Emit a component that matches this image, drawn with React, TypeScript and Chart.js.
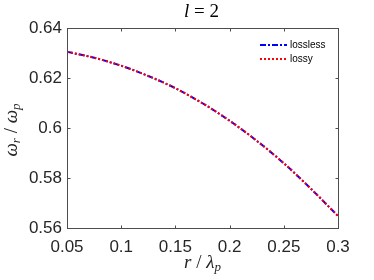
import React, { useEffect, useRef } from 'react';
import { Chart, registerables } from 'chart.js';

Chart.register(...registerables);

const rValues = [0.05, 0.075, 0.1, 0.125, 0.15, 0.175, 0.2, 0.225, 0.25, 0.275, 0.3];
const losslessValues = [0.6305, 0.6281, 0.6249, 0.6208, 0.6159, 0.6099, 0.6029, 0.5949, 0.5859, 0.5757, 0.5648];
const lossyValues = [0.6305, 0.6281, 0.6249, 0.6208, 0.6159, 0.6099, 0.6029, 0.5949, 0.5859, 0.5757, 0.5648];
const seriesNames = ['lossless', 'lossy'];
const xTickValues = [0.05, 0.1, 0.15, 0.2, 0.25, 0.3];
const yTickValues = [0.56, 0.58, 0.6, 0.62, 0.64];

type Part = { text: string; font: string; dy?: number };

function drawRich(ctx: CanvasRenderingContext2D, parts: Part[], cx: number, baseline: number) {
  let total = 0;
  const widths = parts.map((p) => {
    ctx.font = p.font;
    const w = ctx.measureText(p.text).width;
    total += w;
    return w;
  });
  let x = cx - total / 2;
  ctx.textAlign = 'left';
  ctx.textBaseline = 'alphabetic';
  parts.forEach((p, i) => {
    ctx.font = p.font;
    ctx.fillText(p.text, x, baseline + (p.dy || 0));
    x += widths[i];
  });
}

const SERIF = '"Liberation Serif", "DejaVu Serif", serif';
const SANS = '"Liberation Sans", Arial, sans-serif';

const decorPlugin = {
  id: 'decor',
  afterDraw(chart: any) {
    const { ctx, chartArea, scales } = chart;
    const { left, right, top, bottom } = chartArea;
    const xs = scales.x;
    const ys = scales.y;
    ctx.save();
    // box
    ctx.strokeStyle = '#4d4d4d';
    ctx.lineWidth = 1;
    ctx.setLineDash([]);
    const L = Math.round(left) + 0.5;
    const R = Math.round(right) + 0.5;
    const T = Math.round(top) + 0.5;
    const B = Math.round(bottom) + 0.5;
    ctx.strokeRect(L, T, R - L, B - T);
    const tl = 3;
    ctx.beginPath();
    xTickValues.forEach((v) => {
      const px = Math.round(xs.getPixelForValue(v)) + 0.5;
      ctx.moveTo(px, B);
      ctx.lineTo(px, B - tl);
      ctx.moveTo(px, T);
      ctx.lineTo(px, T + tl);
    });
    yTickValues.forEach((v) => {
      const py = Math.round(ys.getPixelForValue(v)) + 0.5;
      ctx.moveTo(L, py);
      ctx.lineTo(L + tl, py);
      ctx.moveTo(R, py);
      ctx.lineTo(R - tl, py);
    });
    ctx.stroke();

    // title
    ctx.fillStyle = '#000';
    const cx = (left + right) / 2;
    drawRich(
      ctx,
      [
        { text: 'l', font: `italic 19px ${SERIF}` },
        { text: ' = ', font: `19px ${SERIF}` },
        { text: '2', font: `19px ${SERIF}` },
      ],
      cx - 1,
      17
    );

    // x label
    ctx.fillStyle = '#262626';
    drawRich(
      ctx,
      [
        { text: 'r', font: `italic 19px ${SERIF}` },
        { text: ' / ', font: `19px ${SERIF}` },
        { text: 'λ', font: `italic 19px ${SERIF}` },
        { text: 'p', font: `italic 13px ${SERIF}`, dy: 3 },
      ],
      cx,
      268
    );

    // y label
    ctx.save();
    ctx.translate(17, 130);
    ctx.rotate(-Math.PI / 2);
    drawRich(
      ctx,
      [
        { text: 'ω', font: `italic 19px ${SERIF}` },
        { text: 'r', font: `italic 13px ${SERIF}`, dy: 3 },
        { text: ' / ', font: `19px ${SERIF}` },
        { text: 'ω', font: `italic 19px ${SERIF}` },
        { text: 'p', font: `italic 13px ${SERIF}`, dy: 3 },
      ],
      0,
      0
    );
    ctx.restore();

    // legend
    const items = [
      { name: seriesNames[0], color: '#0000ff', dash: [6, 2, 2, 2], y: 45 },
      { name: seriesNames[1], color: '#ff0000', dash: [2, 2], y: 59 },
    ];
    items.forEach((it) => {
      ctx.strokeStyle = it.color;
      ctx.lineWidth = 2;
      ctx.setLineDash(it.dash);
      ctx.beginPath();
      ctx.moveTo(260, it.y);
      ctx.lineTo(287, it.y);
      ctx.stroke();
      ctx.setLineDash([]);
      ctx.fillStyle = '#000';
      ctx.font = `10px ${SANS}`;
      ctx.textAlign = 'left';
      ctx.textBaseline = 'middle';
      ctx.fillText(it.name, 290, it.y);
    });
    ctx.restore();
  },
};

export default function App() {
  const ref = useRef<HTMLCanvasElement | null>(null);
  useEffect(() => {
    if (!ref.current) return;
    const chart = new Chart(ref.current, {
      type: 'line',
      data: {
        datasets: [
          {
            label: seriesNames[0],
            data: rValues.map((r, i) => ({ x: r, y: losslessValues[i] })),
            borderColor: '#0000ff',
            borderWidth: 2,
            borderDash: [6, 2, 2, 2],
            pointRadius: 0,
            cubicInterpolationMode: 'monotone',
            fill: false,
            order: 2,
          },
          {
            label: seriesNames[1],
            data: rValues.map((r, i) => ({ x: r, y: lossyValues[i] })),
            borderColor: '#ff0000',
            borderWidth: 2,
            borderDash: [2, 2],
            pointRadius: 0,
            cubicInterpolationMode: 'monotone',
            fill: false,
            order: 1,
          },
        ],
      },
      options: {
        responsive: false,
        animation: false,
        events: [],
        layout: { padding: { left: 0, top: 28, right: 36, bottom: 0 } },
        plugins: { legend: { display: false }, title: { display: false }, tooltip: { enabled: false } },
        scales: {
          x: {
            type: 'linear',
            min: 0.05,
            max: 0.3,
            afterBuildTicks: (s: any) => {
              s.ticks = xTickValues.map((v) => ({ value: v }));
            },
            afterFit: (s: any) => {
              s.height = 52;
            },
            grid: { display: false, drawTicks: false },
            border: { display: false },
            ticks: {
              autoSkip: false,
              maxRotation: 0,
              padding: 9,
              color: '#262626',
              font: { family: SANS, size: 17 },
              callback: (v: any) => String(Number(Number(v).toFixed(2))),
            },
          },
          y: {
            type: 'linear',
            min: 0.56,
            max: 0.64,
            afterBuildTicks: (s: any) => {
              s.ticks = yTickValues.map((v) => ({ value: v }));
            },
            afterFit: (s: any) => {
              s.width = 67;
            },
            grid: { display: false, drawTicks: false },
            border: { display: false },
            ticks: {
              autoSkip: false,
              padding: 5,
              color: '#262626',
              font: { family: SANS, size: 17 },
              callback: (v: any) => String(Number(Number(v).toFixed(2))),
            },
          },
        },
      },
      plugins: [decorPlugin],
    } as any);
    return () => chart.destroy();
  }, []);
  return (
    <div style={{ position: 'fixed', left: 0, top: 0, width: 374, height: 280, background: '#fff' }}>
      <canvas ref={ref} width={374} height={280} style={{ display: 'block' }} />
    </div>
  );
}
